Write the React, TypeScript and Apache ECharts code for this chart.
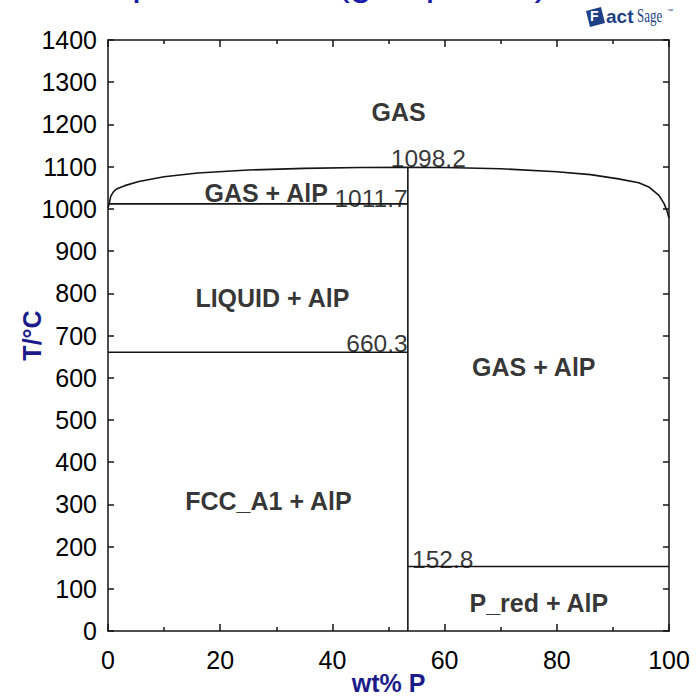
import React, { useEffect, useRef } from "react";
import * as echarts from "echarts";

// ---- data ----
const alpX = 53.45; // wt% P of AlP
const gasCurve: number[][] = [
  [0, 1002], [0.2, 1012], [0.5, 1030], [1, 1041], [1.5, 1047], [3, 1055],
  [5.5, 1065], [10, 1076], [16, 1085], [25, 1092], [35, 1096], [45, 1098],
  [53.45, 1098.2], [60, 1098], [70, 1095], [80, 1088], [86, 1081], [91, 1071],
  [94.6, 1062], [96.4, 1052], [98.2, 1032], [99.1, 1013], [99.6, 997], [100, 978],
];
const alpLine: number[][] = [[alpX, 0], [alpX, 1098.2]];
const line1011: number[][] = [[0, 1011.7], [alpX, 1011.7]];
const line660: number[][] = [[0, 660.3], [alpX, 660.3]];
const line152: number[][] = [[alpX, 152.8], [100, 152.8]];

const regionNames = ["GAS", "GAS + AlP", "LIQUID + AlP", "GAS + AlP", "FCC_A1 + AlP", "P_red + AlP"];
const regionPos: number[][] = [[51.8, 1229], [28.2, 1037], [29.3, 788], [75.9, 626], [28.6, 307], [76.8, 66]];

const valueNames = ["1098.2", "1011.7", "660.3", "152.8"];
const valuePos: number[][] = [[57.1, 1119], [53.4, 1025], [53.4, 682], [54.2, 169]];
const valueAlign = ["center", "right", "right", "left"];

const xMin = 0, xMax = 100, xStep = 20;
const yMin = 0, yMax = 1400, yStep = 100;

const FONT = "'Liberation Sans', Arial, sans-serif";
const NAVY = "#1b1b8a";
const LINE = "#151515";
const LOGO = "#1e3f86";

export default function App() {
  const ref = useRef<HTMLDivElement>(null);
  useEffect(() => {
    if (!ref.current) return;
    const chart = echarts.init(ref.current, undefined, { renderer: "svg" });
    const tickStyle = { color: LINE, width: 1.5 };
    const baseX = {
      type: "value" as const,
      min: xMin, max: xMax, interval: xStep,
      axisLine: { show: true, onZero: false, lineStyle: { color: LINE, width: 1.5 } },
      axisTick: { show: true, inside: true, length: 7, lineStyle: tickStyle },
      minorTick: { show: true, splitNumber: 2, length: 4, lineStyle: tickStyle },
      splitLine: { show: false },
    };
    const baseY = {
      type: "value" as const,
      min: yMin, max: yMax, interval: yStep,
      axisLine: { show: true, onZero: false, lineStyle: { color: LINE, width: 1.5 } },
      axisTick: { show: true, inside: true, length: 6, lineStyle: tickStyle },
      splitLine: { show: false },
    };
    const lineSeries = (data: number[][]) => ({
      type: "line" as const,
      data,
      showSymbol: false,
      symbol: "none",
      lineStyle: { color: LINE, width: 1.6 },
      silent: true,
    });
    chart.setOption({
      animation: false,
      backgroundColor: "#ffffff",
      grid: { left: 108, right: 30, top: 40, bottom: 62, containLabel: false },
      xAxis: [
        {
          ...baseX, position: "bottom",
          axisLabel: { fontSize: 25, color: "#000", margin: 16, fontFamily: FONT, formatter: (v: number) => String(v) },
          name: "wt% P", nameLocation: "middle", nameGap: 39, nameMoveOverlap: false,
          nameTextStyle: { fontSize: 25, fontWeight: "bold", color: NAVY, fontFamily: FONT },
        },
        { ...baseX, position: "top", axisLabel: { show: false } },
      ],
      yAxis: [
        {
          ...baseY, position: "left",
          axisLabel: { fontSize: 25, color: "#000", margin: 11, fontFamily: FONT, formatter: (v: number) => String(v) },
          name: "T/°C", nameLocation: "middle", nameGap: 64, nameMoveOverlap: false,
          nameTextStyle: { fontSize: 25, fontWeight: "bold", color: NAVY, fontFamily: FONT },
        },
        { ...baseY, position: "right", axisLabel: { show: false } },
      ],
      series: [
        lineSeries(gasCurve),
        lineSeries(alpLine),
        lineSeries(line1011),
        lineSeries(line660),
        lineSeries(line152),
        {
          type: "scatter",
          symbolSize: 1,
          itemStyle: { color: "rgba(0,0,0,0)" },
          silent: true,
          data: regionPos.map((p, i) => ({ value: p, name: regionNames[i] })),
          label: {
            show: true, position: "inside", formatter: "{b}",
            fontSize: 25, fontWeight: "bold", color: "#000", fontFamily: FONT,
          },
        },
        {
          type: "scatter",
          symbolSize: 1,
          itemStyle: { color: "rgba(0,0,0,0)" },
          silent: true,
          data: valuePos.map((p, i) => ({
            value: p, name: valueNames[i],
            label: { align: valueAlign[i] },
          })),
          label: {
            show: true, position: "inside", formatter: "{b}",
            fontSize: 24.5, color: "#000", fontFamily: FONT,
          },
        },
      ],
      graphic: [
        {
          type: "text", left: 46, top: -39,
          style: { text: "Al-P phase field (gas phase)", fontSize: 40, fill: "#1a1aa8", fontFamily: FONT },
          silent: true,
        },
        {
          type: "polygon",
          shape: { points: [[586, 11], [601, 7], [605, 23], [590, 27]] },
          style: { fill: LOGO },
          silent: true,
        },
        {
          type: "text", left: 590, top: 9,
          style: { text: "F", fontSize: 14, fontWeight: "bold", fill: "#ffffff", fontFamily: FONT },
          silent: true,
        },
        {
          type: "text", left: 606, top: 7,
          style: { text: "act", fontSize: 19, fontWeight: "bold", fill: LOGO, fontFamily: FONT },
          silent: true,
        },
        {
          type: "text", x: 637, y: 7, scaleX: 0.72,
          style: { text: "Sage", fontSize: 18, fill: LOGO, fontFamily: "'Liberation Serif', serif" },
          silent: true,
        },
        {
          type: "text", left: 667, top: 8,
          style: { text: "™", fontSize: 6, fill: LOGO, fontFamily: FONT },
          silent: true,
        },
      ],
    });
    return () => chart.dispose();
  }, []);
  return <div ref={ref} style={{ position: "fixed", left: 0, top: 0, width: 699, height: 700 }} />;
}
